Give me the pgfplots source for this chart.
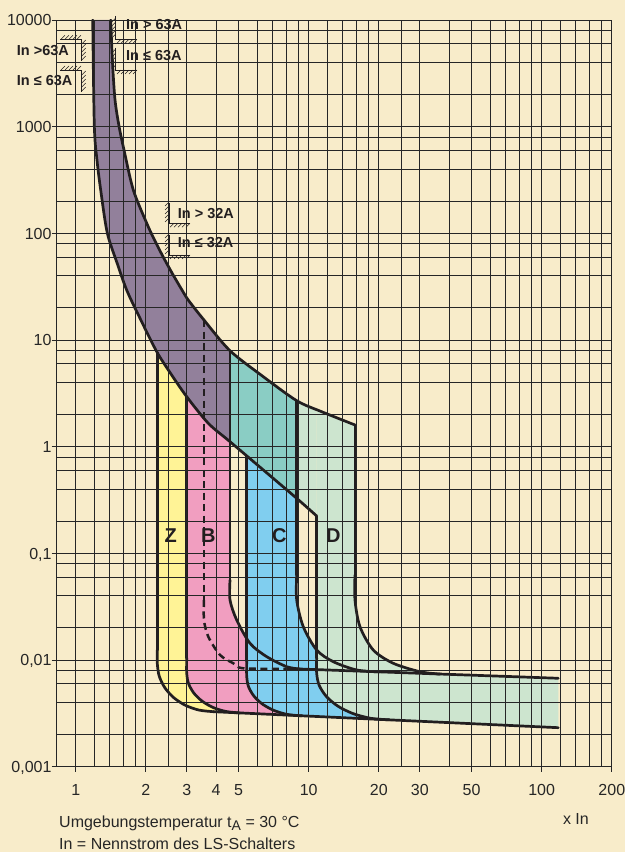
\documentclass[border=0pt]{standalone}
\usepackage{fontspec}
\setmainfont{Liberation Sans}
\usepackage{pgfplots}
\usepackage{pgfplotstable}
\pgfplotsset{compat=1.18}
\usepgfplotslibrary{fillbetween}

\definecolor{bg}{RGB}{248,236,202}
\definecolor{purp}{RGB}{146,128,155}
\definecolor{teal2}{RGB}{138,205,196}
\definecolor{yel}{RGB}{255,243,150}
\definecolor{pink2}{RGB}{241,158,192}
\definecolor{blue2}{RGB}{128,206,239}
\definecolor{green2}{RGB}{205,229,207}
\definecolor{ink}{RGB}{34,30,31}
\pagecolor{bg}

% thermal band
\pgfplotstableread{
x y
1.413 10000
1.439 3955
1.475 1778
1.534 1015
1.612 604
1.767 255
2.018 124.2
2.179 86.7
2.371 60.4
2.594 42.3
2.860 29.4
3.042 23.7
3.553 15.4
4.595 7.94
6.387 4.53
8.882 2.70
11.35 2.13
15.80 1.598
}\Upper
\pgfplotstableread{
x y
1.183 10000
1.202 1015
1.234 487
1.280 255
1.366 101
1.510 51.7
1.655 29.4
1.875 16.5
2.227 7.78
2.582 4.70
2.995 2.943
3.708 1.657
4.595 1.114
6.387 0.605
8.882 0.328
10.82 0.224
}\Lower

% outlines of the magnetic bands, for the fills
\pgfplotstableread{
x y
2.240 7.63
2.240 0.009239
2.2824 0.007068
2.4120 0.005504
2.6340 0.004442
2.954 0.003767
3.3757 0.003397
3.896 0.003279
5.072 0.003192
}\ZLeftFill
\pgfplotstableread{
x y
2.995 2.943
2.995 0.007511
3.0493 0.006021
3.2138 0.004899
3.4945 0.004105
3.8974 0.003582
4.4255 0.003290
5.0716 0.003192
}\BLeftFillA
\pgfplotstableread{
x y
2.995 2.943
2.995 0.007511
3.0493 0.006021
3.2138 0.004899
3.4945 0.004105
3.8974 0.003582
4.4255 0.003290
5.0716 0.003192
9.177 0.003006
}\BLeftFill
\pgfplotstableread{
x y
4.595 1.114
4.595 0.03654
4.909 0.02373
5.598 0.01435
6.604 0.01075
8.046 0.008662
9.177 0.008241
}\BRightFill
\pgfplotstableread{
x y
5.419 0.820
5.419 0.006981
5.5203 0.005610
5.8281 0.004576
6.3538 0.003842
7.1113 0.003361
8.1077 0.003088
9.332 0.003001
24.65 0.002720
}\CLeftFill
\pgfplotstableread{
x y
8.882 0.328
8.882 0.03654
9.480 0.02054
10.82 0.01242
12.75 0.009648
16.07 0.008067
20.23 0.00774
24.65 0.007622
}\CRightFill
\pgfplotstableread{
x y
10.82 2.23
10.82 0.007511
11.092 0.005790
11.920 0.004543
13.365 0.003689
15.52 0.003144
18.47 0.002843
22.27 0.002748
117.8 0.002321
}\DLeftFill
\pgfplotstableread{
x y
15.80 1.598
15.80 0.03654
16.60 0.02054
18.93 0.01242
23.07 0.009321
30.04 0.007773
36.60 0.007388
117.8 0.006744
}\DRightFill

% bends drawn as lines
\pgfplotstableread{
x y
2.240 0.01242
2.240 0.009239
2.2824 0.007068
2.4120 0.005504
2.6340 0.004442
2.954 0.003767
3.3757 0.003397
3.896 0.003279
}\ZBend
\pgfplotstableread{
x y
2.995 0.010450
2.995 0.007511
3.0493 0.006021
3.2138 0.004899
3.4945 0.004105
3.8974 0.003582
4.4255 0.003290
5.0716 0.003192
}\BLBend
\pgfplotstableread{
x y
4.595 0.05629
4.595 0.03654
4.909 0.02373
5.598 0.01435
6.604 0.01075
8.046 0.008662
9.177 0.008241
}\BRBend
\pgfplotstableread{
x y
5.419 0.009795
5.419 0.006981
5.5203 0.005610
5.8281 0.004576
6.3538 0.003842
7.1113 0.003361
8.1077 0.003088
9.332 0.003001
}\CLBend
\pgfplotstableread{
x y
8.882 0.06269
8.882 0.03654
9.480 0.02054
10.82 0.01242
12.75 0.009648
16.07 0.008067
20.23 0.00774
}\CRBend
\pgfplotstableread{
x y
10.82 0.010450
10.82 0.007511
11.092 0.005790
11.920 0.004543
13.365 0.003689
15.52 0.003144
18.47 0.002843
22.27 0.002748
}\DLBend
\pgfplotstableread{
x y
15.80 0.06269
15.80 0.03654
16.60 0.02054
18.93 0.01242
23.07 0.009321
30.04 0.007773
36.60 0.007388
}\DRBend
\pgfplotstableread{
x y
3.553 0.03654
3.553 0.02373
3.708 0.01655
4.163 0.01115
4.747 0.009321
5.241 0.008367
8.313 0.00825
}\DashBend

\begin{document}
\begin{tikzpicture}[x=1pt,y=1pt]
\path (0,0) rectangle (625,852);
\begin{axis}[
  at={(56.7pt,85.3pt)}, anchor=south west,
  scale only axis, width=555.1pt, height=746.7pt,
  xmode=log, ymode=log,
  xmin=0.8287, xmax=200, ymin=0.001, ymax=10000,
  xtick={1,2,3,4,5,10,20,30,50,100,200},
  xticklabels={1,2,3,4,5,10,20,30,50,100,200},
  minor xtick={1.2,1.4,1.6,1.8,2.5,6,7,8,9,12,14,16,18,25,40,60,70,80,90,120,140,160,180},
  ytick={0.001,0.01,0.1,1,10,100,1000,10000},
  yticklabels={{0,001},{0,01},{0,1},1,10,100,1000,10000},
  minor ytick={0.002,0.004,0.006,0.008,0.02,0.04,0.06,0.08,0.2,0.4,0.6,0.8,2,4,6,8,20,40,60,80,200,400,600,800,2000,4000,6000,8000},
  grid=both,
  major grid style={black!85, line width=0.9pt},
  minor grid style={black!85, line width=0.9pt},
  axis line style={black!85, line width=0.9pt},
  tick align=outside, major tick length=5pt, minor tick length=0pt,
  tick style={black!85, line width=0.9pt},
  xtick pos=bottom, ytick pos=left,
  set layers, axis on top, no markers,
  /pgf/number format/assume math mode=true,
  ticklabel style={font=\fontsize{16}{19}\selectfont, text=black!85},
  xticklabel style={anchor=north, inner sep=0pt, yshift=-12.3pt},
  yticklabel style={anchor=base east, inner sep=0pt, yshift=-5.7pt},
]
% named outlines
\addplot[draw=none, smooth, name path=U] table {\Upper};
\addplot[draw=none, smooth, name path=L] table {\Lower};
\addplot[draw=none, name path=zlf] table {\ZLeftFill};
\addplot[draw=none, name path=bla] table {\BLeftFillA};
\addplot[draw=none, name path=blf] table {\BLeftFill};
\addplot[draw=none, name path=brf] table {\BRightFill};
\addplot[draw=none, name path=clf] table {\CLeftFill};
\addplot[draw=none, name path=crf] table {\CRightFill};
\addplot[draw=none, name path=dlf] table {\DLeftFill};
\addplot[draw=none, name path=drf] table {\DRightFill};

% fills
\addplot[fill=yel, draw=none] fill between[of=zlf and bla];
\addplot[fill=pink2, draw=none] fill between[of=blf and brf];
\addplot[fill=blue2, draw=none] fill between[of=clf and crf];
\addplot[fill=green2, draw=none] fill between[of=dlf and drf];
\addplot[fill=green2, draw=none] fill between[of=U and L, soft clip={(axis cs:8.882,0.0001) rectangle (axis cs:10.82,100000)}];
\addplot[fill=purp, draw=none] fill between[of=U and L, soft clip={(axis cs:0.5,0.0001) rectangle (axis cs:4.595,100000)}];
\addplot[fill=teal2, draw=none] fill between[of=U and L, soft clip={(axis cs:4.595,0.0001) rectangle (axis cs:8.882,100000)}];

% outlines
\pgfplotsset{curve/.style={ink, line width=2.7pt, line cap=round, line join=round}}
\addplot[curve, smooth] table {\Upper};
\addplot[curve, smooth] table {\Lower};
\addplot[curve] coordinates {(2.240,7.63) (2.240,0.01242)};
\addplot[curve] coordinates {(2.995,2.943) (2.995,0.010450)};
\addplot[curve] coordinates {(4.595,7.94) (4.595,0.05629)};
\addplot[curve] coordinates {(5.419,0.820) (5.419,0.009795)};
\addplot[curve] coordinates {(8.882,2.70) (8.882,0.06269)};
\addplot[curve] coordinates {(10.82,0.224) (10.82,0.010450)};
\addplot[curve] coordinates {(15.80,1.598) (15.80,0.06269)};
\addplot[curve, smooth] table {\ZBend};
\addplot[curve, smooth] table {\BLBend};
\addplot[curve, smooth] table {\BRBend};
\addplot[curve, smooth] table {\CLBend};
\addplot[curve, smooth] table {\CRBend};
\addplot[curve, smooth] table {\DLBend};
\addplot[curve, smooth] table {\DRBend};
\addplot[curve] coordinates {(3.896,0.003279) (117.8,0.002321)};
\addplot[curve] coordinates {(8.313,0.008303) (117.8,0.006744)};
\addplot[ink, line width=2.5pt, dash pattern=on 7pt off 4.5pt] coordinates {(3.553,15.4) (3.553,0.03654)};
\addplot[ink, line width=2.5pt, smooth, dash pattern=on 7pt off 4.5pt] table {\DashBend};
\end{axis}

% band letters
\begin{scope}[font=\fontsize{20}{24}\selectfont\bfseries, text=ink]
\node at (170.7,316.3) {Z};
\node at (208.3,316.3) {B};
\node at (279.3,316.3) {C};
\node at (333.3,316.3) {D};
\end{scope}

% rating markers
\begin{scope}[line width=0.8pt, ink]
\draw (115.7,836) -- (115.7,812.7) -- (136.7,812.7);
\foreach \t in {0,4,...,16} \draw[line width=0.5pt] (111.7,{814+\t}) -- (115.7,{818+\t});
\foreach \t in {0,4,...,16} \draw[line width=0.5pt] ({117+\t},808.7) -- ({121+\t},812.7);
\draw (115.7,804.3) -- (115.7,782) -- (136.7,782);
\foreach \t in {0,4,...,16} \draw[line width=0.5pt] (111.7,{783+\t}) -- (115.7,{787+\t});
\foreach \t in {0,4,...,16} \draw[line width=0.5pt] ({117+\t},778) -- ({121+\t},782);
\draw (60,812.7) -- (81.7,812.7) -- (81.7,791);
\foreach \t in {0,4,...,16} \draw[line width=0.5pt] ({61+\t},812.7) -- ({65+\t},816.7);
\foreach \t in {0,4,...,16} \draw[line width=0.5pt] (81.7,{792+\t}) -- (85.7,{796+\t});
\draw (60,782) -- (81.7,782) -- (81.7,760.3);
\foreach \t in {0,4,...,16} \draw[line width=0.5pt] ({61+\t},782) -- ({65+\t},786);
\foreach \t in {0,4,...,16} \draw[line width=0.5pt] (81.7,{761+\t}) -- (85.7,{765+\t});
\draw (169,648.7) -- (169,628.7) -- (190,628.7);
\foreach \t in {0,4,...,16} \draw[line width=0.5pt] (165,{630+\t}) -- (169,{634+\t});
\foreach \t in {0,4,...,16} \draw[line width=0.5pt] ({170+\t},624.7) -- ({174+\t},628.7);
\draw (169,617) -- (169,597) -- (190,597);
\foreach \t in {0,4,...,16} \draw[line width=0.5pt] (165,{598+\t}) -- (169,{602+\t});
\foreach \t in {0,4,...,16} \draw[line width=0.5pt] ({170+\t},593) -- ({174+\t},597);
\end{scope}
\begin{scope}[font=\fontsize{14.5}{17}\selectfont\bfseries, text=ink, inner sep=0pt]
\node[anchor=west] at (126,827) {In > 63A};
\node[anchor=west] at (126,796.5) {In ≤ 63A};
\node[anchor=west] at (16.7,801) {In >63A};
\node[anchor=west] at (16.7,771) {In ≤ 63A};
\node[anchor=west] at (177.7,638.5) {In > 32A};
\node[anchor=west] at (177.7,609) {In ≤ 32A};
\end{scope}

% notes
\begin{scope}[font=\fontsize{16}{19}\selectfont, text=black!85, inner sep=0pt]
\node[anchor=base west] at (59,24.7) {Umgebungstemperatur t\raisebox{-3pt}{\fontsize{14}{14}\selectfont A} = 30 °C};
\node[anchor=base west] at (59,2) {In = Nennstrom des LS-Schalters};
\node[anchor=base west] at (562.8,27.3) {x In};
\end{scope}
\end{tikzpicture}
\end{document}
